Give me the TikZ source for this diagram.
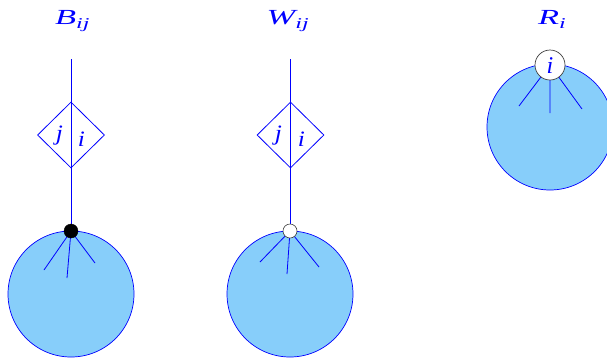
\documentclass[tikz,border=0pt]{standalone}
\usepackage{graphicx}
\usepackage{fontspec}
\setmainfont{Liberation Serif}
\usetikzlibrary{shapes.geometric}
\definecolor{ballfill}{RGB}{135,206,250}
\definecolor{ink}{RGB}{0,0,255}
\newcommand{\mysub}[1]{\raisebox{-4pt}{\fontsize{15}{18}\selectfont #1}}
\newcommand{\wide}[2]{\scalebox{#1}[1]{#2}}
\begin{document}
\begin{tikzpicture}[x=1pt,y=-1pt,
  lbl/.style={font=\itshape\fontsize{21.5}{26}\selectfont, text=ink, inner sep=0pt, anchor=base west},
  ltr/.style={font=\itshape\fontsize{22}{26}\selectfont, text=ink, inner sep=0pt, anchor=base},
  rtr/.style={font=\itshape\fontsize{24}{28}\selectfont, text=ink, inner sep=0pt, anchor=base},
  ball/.style={circle,draw=ink,fill=ballfill,line width=0.7pt,minimum size=126pt,inner sep=0pt},
  leg/.style={color=ink,line width=0.8pt},
  vbox/.style={diamond,draw=ink,line width=0.8pt,minimum width=67pt,minimum height=66pt,inner sep=0pt},
  blackdot/.style={circle,fill=black,draw=black,minimum size=14pt,inner sep=0pt},
  whitedot/.style={circle,fill=white,draw=black!75,line width=0.6pt,minimum size=14pt,inner sep=0pt},
  rootdot/.style={circle,fill=white,draw=black!75,line width=0.7pt,minimum size=30pt,inner sep=0pt}]
\useasboundingbox (0,0) rectangle (607,360);
% B_ij
\node[lbl] (lb) at (55,24.5) {\wide{1.6}{B\mysub{ij}}};
\node[ball] (gb) at (71,294) {};
\coordinate (tb) at (71,59);
\coordinate (b0) at (71,231);
\node[vbox] (db) at (71,135) {};
\node[ltr] (jb) at (59.5,140) {\wide{1.15}{j}};
\node[ltr] (ib) at (81.5,146) {\wide{1.15}{i}};
\draw[leg] (tb) -- (b0);
\coordinate (b1) at (44,270);
\coordinate (b2) at (67,278);
\coordinate (b3) at (95,263);
\draw[leg] (b0) -- (b1) (b0) -- (b2) (b0) -- (b3);
\node[blackdot] (pb) at (b0) {};
% W_ij
\node[lbl] (lw) at (266.5,24.5) {\wide{1.6}{W\mysub{ij}}};
\node[ball] (gw) at (290,294) {};
\coordinate (tw) at (290,59);
\coordinate (w0) at (290,231);
\node[vbox] (dw) at (290.5,135) {};
\node[ltr] (jw) at (278.5,140) {\wide{1.15}{j}};
\node[ltr] (iw) at (301.5,146) {\wide{1.15}{i}};
\draw[leg] (tw) -- (w0);
\coordinate (w1) at (260,262);
\coordinate (w2) at (287,274);
\coordinate (w3) at (319,267);
\draw[leg] (w0) -- (w1) (w0) -- (w2) (w0) -- (w3);
\node[whitedot] (pw) at (w0) {};
% R_i
\node[lbl] (lr) at (538,24.5) {\wide{1.6}{R\mysub{i}}};
\node[ball] (gr) at (550,127) {};
\coordinate (r0) at (550,65);
\coordinate (r1) at (519,106);
\coordinate (r2) at (550,113);
\coordinate (r3) at (582,109);
\draw[leg] (r0) -- (r1) (r0) -- (r2) (r0) -- (r3);
\node[rootdot] (pr) at (r0) {};
\node[rtr] (ir) at (550,73.5) {i};
\end{tikzpicture}
\end{document}
